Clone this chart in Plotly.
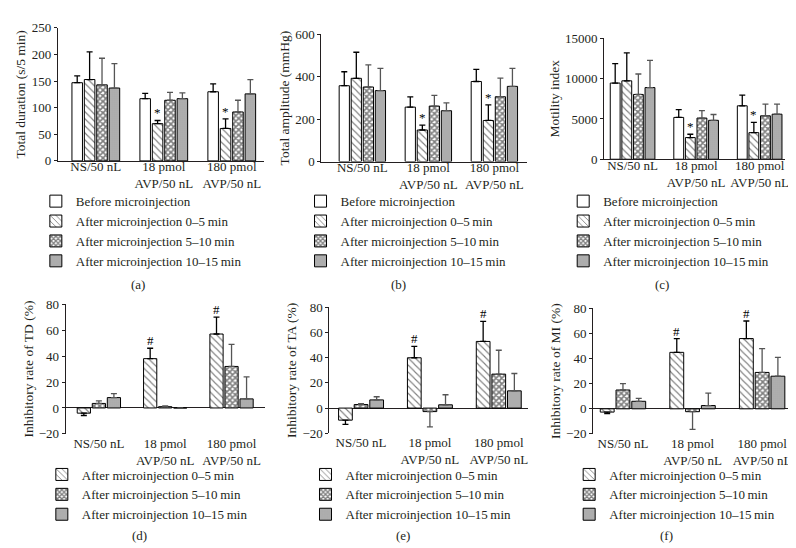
import plotly.graph_objects as go

W, H = 796, 548
FONT = "Liberation Serif"
INK = "#231f20"

# ---------------- data ----------------
categories = ["NS/50 nL", "18 pmol<br>AVP/50 nL", "180 pmol<br>AVP/50 nL"]
series_top = ["Before microinjection", "After microinjection 0\u20135\u2009min",
              "After microinjection 5\u201310\u2009min", "After microinjection 10\u201315\u2009min"]
series_bottom = series_top[1:]

# (a) Total duration (s/5 min): rows = series, cols = categories
td_mean = [[147, 117, 130], [153, 70, 61], [143, 114, 92], [137, 117, 126]]
td_err = [[13, 10, 15], [52, 6, 18], [50, 15, 22], [46, 11, 27]]
# (b) Total amplitude (mmHg)
ta_mean = [[358, 257, 378], [393, 149, 194], [352, 262, 306], [335, 240, 355]]
ta_err = [[66, 48, 57], [123, 23, 74], [104, 50, 88], [105, 37, 85]]
# (c) Motility index
mi_mean = [[9450, 5190, 6630], [9730, 2690, 3300], [8040, 5110, 5390], [8890, 4830, 5590]]
mi_err = [[2410, 960, 1330], [3460, 410, 1280], [2535, 920, 1450], [3370, 720, 1250]]
# (d) Inhibitory rate of TD (%)
itd_mean = [[-4, 38, 57], [3.5, 1, 32], [8, 0, 7]]
itd_err = [[1.8, 8, 13], [2, 0.5, 17], [3, 0, 17]]
# (e) Inhibitory rate of TA (%)
ita_mean = [[-9.6, 40, 53], [2.8, -2.8, 27], [6.5, 2.6, 13.7]]
ita_err = [[3.4, 9, 16], [0.8, 12.2, 19], [2.5, 8, 13.8]]
# (f) Inhibitory rate of MI (%)
imi_mean = [[-2.6, 45, 56], [15, -2.3, 29], [6, 2.6, 26]]
imi_err = [[1.3, 11, 14], [5, 14.1, 19], [2.3, 9.9, 15]]

# significance marks: (series index, category index)
star_marks = [(1, 1), (1, 2)]
hash_marks = [(0, 1), (0, 2)]

# ---------------- styles ----------------
pat_before = dict(shape="")
pat_05 = dict(shape="\\", size=5, solidity=0.22, fgcolor="black", bgcolor="white")
pat_510 = dict(shape="x", size=4, solidity=0.65, fgcolor="black", bgcolor="white")
pat_1015 = dict(shape=".", size=2, solidity=0.4, fgcolor="#4a4a4a", bgcolor="#c4c4c4")
top_styles = [(pat_before, "black"), (pat_05, "black"), (pat_510, "#555"), (pat_1015, "#555")]
bottom_styles = top_styles[1:]

def px_x(p):
    return p / W

def px_y(p):
    return 1 - p / H

panels = [
    dict(mean=td_mean, err=td_err, names=series_top, styles=top_styles, title="Total duration (s/5 min)",
         xd=(50, 257), yd=(13.3, 150), xr=[-0.56, 2.47], yr=[0, 250], dt=50, G=0.73, gg=0.15,
         marks=star_marks, mark="*", leg=(28, 176), lab=(131, 277), lab_t="(a)"),
    dict(mean=ta_mean, err=ta_err, names=series_top, styles=top_styles, title="Total amplitude (mmHg)",
         xd=(315, 522), yd=(20, 150.7), xr=[-0.62, 2.5], yr=[0, 600], dt=200, G=0.73, gg=0.15,
         marks=star_marks, mark="*", leg=(294, 176), lab=(392, 277), lab_t="(b)"),
    dict(mean=mi_mean, err=mi_err, names=series_top, styles=top_styles, title="Motility index",
         xd=(599, 781), yd=(24, 148.3), xr=[-0.45, 2.4], yr=[0, 15000], dt=5000, G=0.73, gg=0.15,
         marks=star_marks, mark="*", leg=(558, 176), lab=(657, 277), lab_t="(c)"),
    dict(mean=itd_mean, err=itd_err, names=series_bottom, styles=bottom_styles, title="Inhibitory rate of TD (%)",
         xd=(58, 258), yd=(297.3, 430.7), xr=[-0.5, 2.5], yr=[-20, 80], dt=20, G=0.68, gg=0.12,
         marks=hash_marks, mark="#", leg=(34, 457), lab=(132, 535), lab_t="(d)"),
    dict(mean=ita_mean, err=ita_err, names=series_bottom, styles=bottom_styles, title="Inhibitory rate of TA (%)",
         xd=(323, 523), yd=(300.7, 430), xr=[-0.46, 2.43], yr=[-20, 80], dt=20, G=0.68, gg=0.12,
         marks=hash_marks, mark="#", leg=(299, 457), lab=(397, 535), lab_t="(e)"),
    dict(mean=imi_mean, err=imi_err, names=series_bottom, styles=bottom_styles, title="Inhibitory rate of MI (%)",
         xd=(588, 788), yd=(301.7, 430.7), xr=[-0.43, 2.43], yr=[-20, 80], dt=20, G=0.68, gg=0.12,
         marks=hash_marks, mark="#", leg=(564, 457), lab=(662, 535), lab_t="(f)"),
]

fig = go.Figure()
layout = dict(
    width=W, height=H, margin=dict(l=0, r=0, t=0, b=0),
    paper_bgcolor="white", plot_bgcolor="white", barmode="overlay",
    font=dict(family=FONT, size=13, color=INK),
    annotations=[],
)

for k, p in enumerate(panels):
    idx = k + 1
    sx = "" if idx == 1 else str(idx)
    legname = "legend" if idx == 1 else f"legend{idx}"
    n = len(p["names"])
    slot = p["G"] / n
    for j, name in enumerate(p["names"]):
        pat, ecol = p["styles"][j]
        off = -p["G"] / 2 + j * slot + slot * p["gg"] / 2
        wid = slot * (1 - p["gg"])
        vals = p["mean"][j]
        errs = p["err"][j]
        plus = [e if v >= 0 else 0 for v, e in zip(vals, errs)]
        minus = [0 if v >= 0 else e for v, e in zip(vals, errs)]
        fig.add_trace(go.Bar(
            x=categories, y=vals, name=name, width=wid, offset=off,
            xaxis="x" + sx, yaxis="y" + sx, legend=legname,
            marker=dict(color="white", pattern=pat, line=dict(color="black", width=1)),
            error_y=dict(type="data", symmetric=False, array=plus, arrayminus=minus,
                         color=ecol, thickness=1.3, width=3),
            hoverinfo="skip",
        ))
        for (sj, ci) in p["marks"]:
            if sj == j:
                layout["annotations"].append(dict(
                    x=ci + off + wid / 2, y=vals[ci] + errs[ci], xref="x" + sx, yref="y" + sx,
                    text=p["mark"], showarrow=False, yanchor="bottom", yshift=-2,
                    font=dict(family=FONT, size=13, color="black")))
    bottom_row = p["yr"][0] < 0
    layout["xaxis" + sx] = dict(
        domain=[px_x(p["xd"][0]), px_x(p["xd"][1])], anchor="y" + sx,
        type="category", categoryorder="array", categoryarray=categories, range=p["xr"],
        showline=not bottom_row, linecolor=INK, linewidth=1, ticks="", showgrid=False,
        zeroline=False, tickfont=dict(family=FONT, size=13, color=INK), fixedrange=True,
        ticklabelstandoff=0 if bottom_row else -6,
    )
    layout["yaxis" + sx] = dict(
        domain=[px_y(p["yd"][1]), px_y(p["yd"][0])], anchor="x" + sx,
        range=p["yr"], dtick=p["dt"], tick0=0, tickformat="d", showline=True, linecolor=INK, linewidth=1,
        ticks="outside", ticklen=3, tickcolor=INK, showgrid=False,
        zeroline=bottom_row, zerolinecolor=INK, zerolinewidth=1,
        tickfont=dict(family=FONT, size=13, color=INK),
        title=dict(text=p["title"], font=dict(family=FONT, size=13.5, color=INK), standoff=2),
        fixedrange=True,
    )
    layout[legname] = dict(
        x=px_x(p["leg"][0]), y=px_y(p["leg"][1]), xanchor="left", yanchor="top",
        bgcolor="rgba(0,0,0,0)", font=dict(family=FONT, size=13, color=INK),
        traceorder="normal", itemclick=False, itemdoubleclick=False,
    )
    layout["annotations"].append(dict(
        x=px_x(p["lab"][0]), y=px_y(p["lab"][1]), xref="paper", yref="paper",
        text=p["lab_t"], showarrow=False, xanchor="center", yanchor="middle",
        font=dict(family=FONT, size=13, color=INK)))

fig.update_layout(**layout)
fig.write_html("out.html")
